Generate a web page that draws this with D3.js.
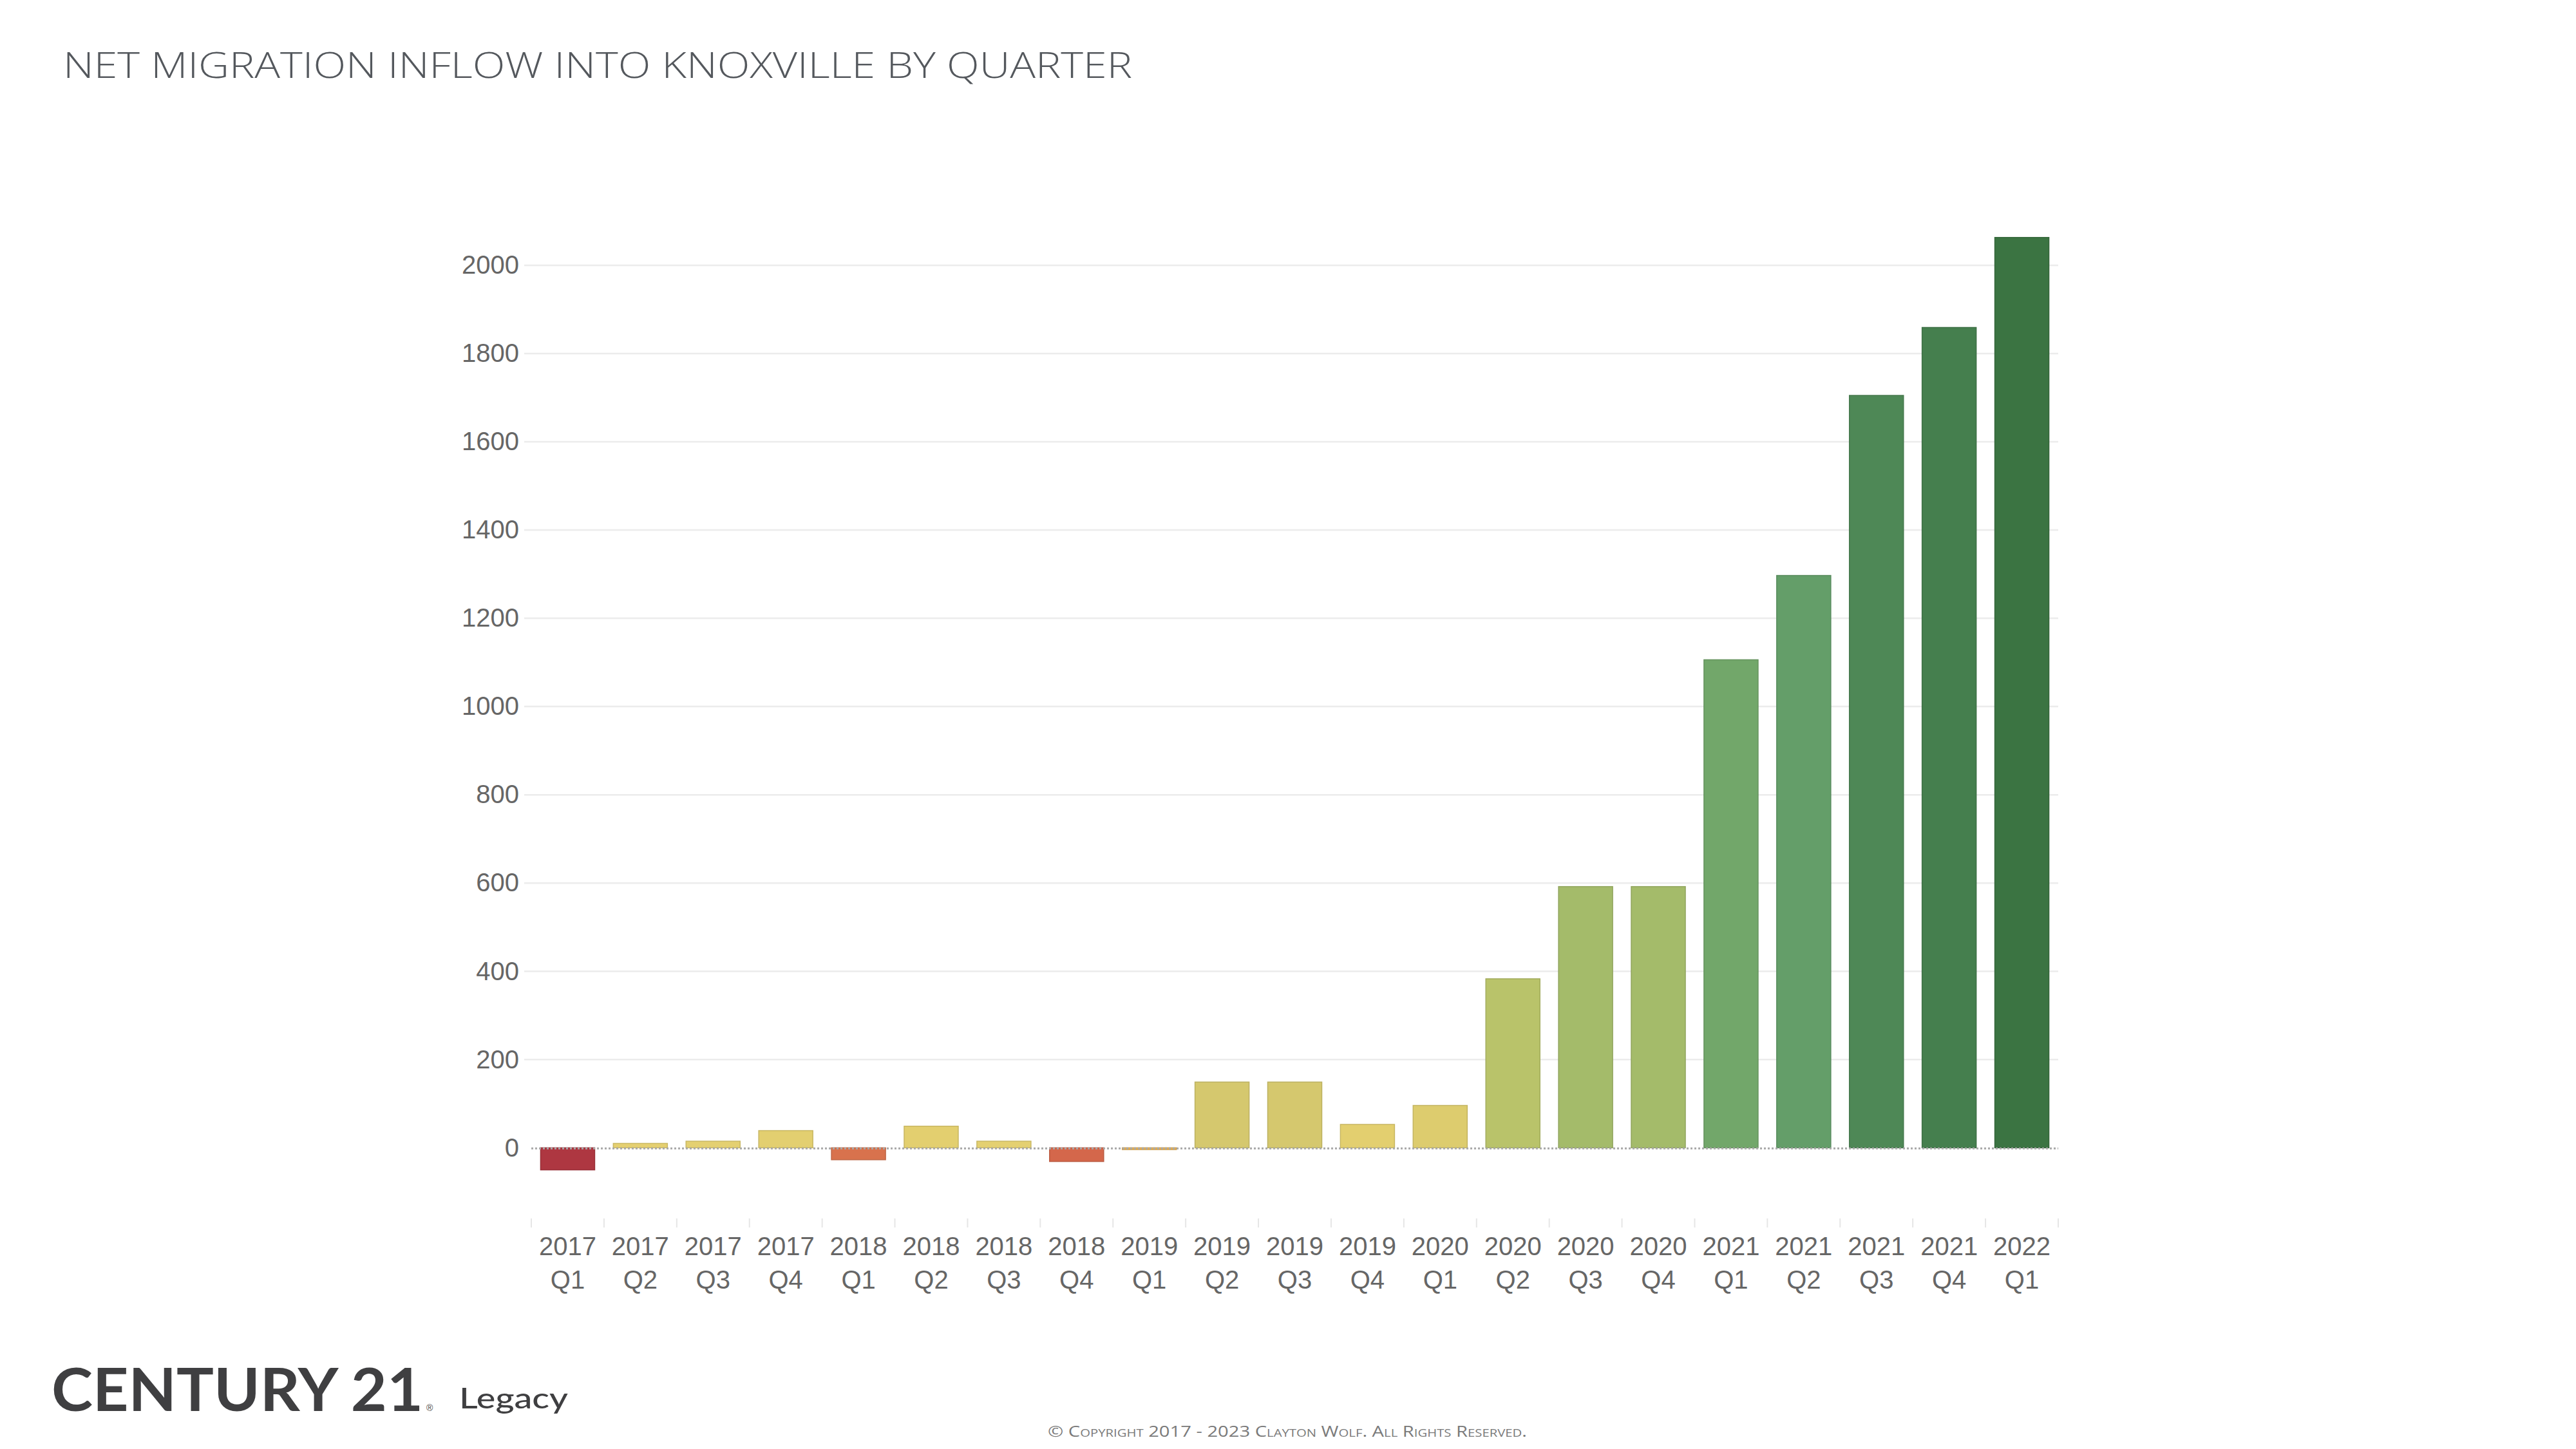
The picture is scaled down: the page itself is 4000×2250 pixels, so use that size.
<!DOCTYPE html>
<html>
<head>
<meta charset="utf-8">
<script src="https://cdn.jsdelivr.net/npm/d3@7"></script>
<style>
  html, body { margin: 0; padding: 0; background: #ffffff; }
  svg { display: block; }
</style>
</head>
<body>
<script>
// ---- Data ----
const years    = ["2017","2017","2017","2017","2018","2018","2018","2018","2019","2019","2019","2019","2020","2020","2020","2020","2021","2021","2021","2021","2022"];
const quarters = ["Q1","Q2","Q3","Q4","Q1","Q2","Q3","Q4","Q1","Q2","Q3","Q4","Q1","Q2","Q3","Q4","Q1","Q2","Q3","Q4","Q1"];
const netMigration = [-50, 10, 15, 39, -27, 49, 15, -31, -4, 149, 149, 53, 96, 383, 592, 592, 1106, 1297, 1705, 1859, 2063];
const yTicks = [0, 200, 400, 600, 800, 1000, 1200, 1400, 1600, 1800, 2000];
const titleText = "NET MIGRATION INFLOW INTO KNOXVILLE BY QUARTER";
const copyrightText = "© Copyright 2017 - 2023 Clayton Wolf. All Rights Reserved.";

// colour ramp (value -> colour)
const colorStops  = [-50, -30, -4, 0, 50, 100, 150, 380, 592, 1106, 1297, 1705, 1859, 2063];
const colorValues = ["#ae3741", "#d6694b", "#eab45a", "#e5d072", "#e3cf6f", "#dccc6e", "#d5c86e", "#b9c36a", "#a4bb6a", "#72a76a", "#649e69", "#4e8856", "#457f4e", "#3b7442"];

const W = 4000, H = 2250;
const svg = d3.select("body").append("svg").attr("width", W).attr("height", H)
  .style("background", "#ffffff");

const keys = years.map((y, i) => y + " " + quarters[i]);

const x = d3.scaleBand().domain(keys).range([825, 3196]).paddingInner(0.256).paddingOuter(0.128);
const y = d3.scaleLinear().domain([-150, 2150]).range([1885.1, 309.1]);
const color = d3.scaleLinear().domain(colorStops).range(colorValues);

// Title
svg.append("text")
  .attr("x", 98).attr("y", 121)
  .attr("font-family", "'Open Sans', 'Noto Sans', sans-serif")
  .attr("font-weight", 300)
  .attr("font-size", 55)
  .attr("fill", "#54585d")
  .attr("textLength", 1660)
  .attr("lengthAdjust", "spacingAndGlyphs")
  .text(titleText);

// Gridlines
svg.append("g").selectAll("line").data(yTicks.filter(d => d !== 0)).join("line")
  .attr("x1", 814).attr("x2", 3196)
  .attr("y1", d => y(d)).attr("y2", d => y(d))
  .attr("stroke", "#ececec").attr("stroke-width", 2.5);

// Y axis labels
const yAxis = d3.axisLeft(y).tickValues(yTicks).tickFormat(d3.format("d")).tickSize(0).tickPadding(0);
const gy = svg.append("g").attr("transform", "translate(806,0)").call(yAxis);
gy.select(".domain").remove();
gy.selectAll("text")
  .attr("font-family", "'Liberation Sans', Arial, sans-serif")
  .attr("font-size", 40)
  .attr("fill", "#666666");

// Bars
svg.append("g").selectAll("rect").data(netMigration).join("rect")
  .attr("x", (d, i) => x(keys[i]))
  .attr("width", x.bandwidth())
  .attr("y", d => y(Math.max(0, d)))
  .attr("height", d => Math.max(1.5, Math.abs(y(d) - y(0))))
  .attr("fill", d => color(d))
  .attr("stroke", d => d3.color(color(d)).darker(0.35))
  .attr("stroke-width", 1.5);

// Zero line (dotted)
svg.append("line")
  .attr("x1", 825).attr("x2", 3196)
  .attr("y1", y(0) + 1).attr("y2", y(0) + 1)
  .attr("stroke", "#a8a8a8").attr("stroke-width", 3)
  .attr("stroke-dasharray", "3,3");

// X axis: separators at band boundaries
const step = x.step();
const bounds = keys.map(k => x(k) - x.paddingOuter() * step).concat([x(keys[keys.length - 1]) - x.paddingOuter() * step + step]);
svg.append("g").selectAll("line").data(bounds).join("line")
  .attr("x1", d => d).attr("x2", d => d)
  .attr("y1", 1892).attr("y2", 1906)
  .attr("stroke", "#e6e6e6").attr("stroke-width", 2);

// X labels (two lines)
const xl = svg.append("g")
  .attr("font-family", "'Liberation Sans', Arial, sans-serif")
  .attr("font-size", 40)
  .attr("fill", "#666666")
  .attr("text-anchor", "middle");
xl.selectAll("text.yr").data(keys).join("text").attr("class", "yr")
  .attr("x", d => x(d) + x.bandwidth() / 2).attr("y", 1949)
  .text((d, i) => years[i]);
xl.selectAll("text.qt").data(keys).join("text").attr("class", "qt")
  .attr("x", d => x(d) + x.bandwidth() / 2).attr("y", 2001)
  .text((d, i) => quarters[i]);

// Logo text
svg.append("text")
  .attr("x", 80).attr("y", 2191)
  .attr("font-family", "'Lato', 'Noto Sans', sans-serif")
  .attr("font-weight", 700)
  .attr("font-size", 92)
  .attr("fill", "#3f3f41")
  .attr("textLength", 577)
  .attr("lengthAdjust", "spacingAndGlyphs")
  .text("CENTURY 21");
svg.append("text")
  .attr("x", 662).attr("y", 2191)
  .attr("font-family", "'Liberation Sans', Arial, sans-serif")
  .attr("font-size", 14)
  .attr("fill", "#3f3f41")
  .text("®");
svg.append("text")
  .attr("x", 713).attr("y", 2187)
  .attr("font-family", "'Lato', 'Noto Sans', sans-serif")
  .attr("font-weight", 500)
  .attr("font-size", 44)
  .attr("fill", "#3f3f41")
  .attr("textLength", 169)
  .attr("lengthAdjust", "spacingAndGlyphs")
  .text("Legacy");

// Copyright
svg.append("text")
  .attr("x", 1627).attr("y", 2231)
  .attr("font-family", "'Open Sans', 'Liberation Sans', sans-serif")
  .attr("font-size", 23)
  .style("font-variant", "small-caps")
  .attr("fill", "#7a7a7a")
  .attr("textLength", 744)
  .attr("lengthAdjust", "spacingAndGlyphs")
  .text(copyrightText);
</script>
</body>
</html>
